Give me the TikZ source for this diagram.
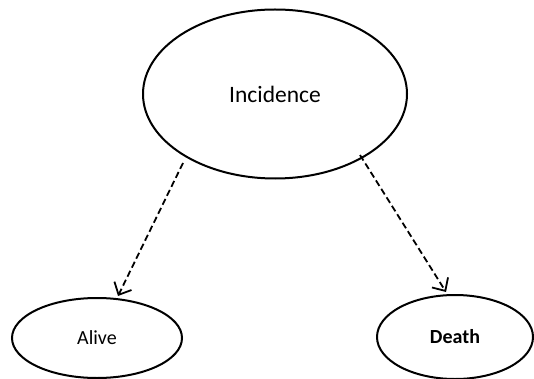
\documentclass[tikz,border=0pt]{standalone}
\usepackage{fontspec}
\setmainfont{Carlito}
\usetikzlibrary{shapes.geometric,arrows.meta}
\begin{document}
\begin{tikzpicture}[x=1pt,y=-1pt,
  blob/.style={draw=black,line width=2pt,ellipse,inner sep=0pt,fill=white},
  link/.style={draw=black,line width=1.8pt,dash pattern=on 6.5pt off 3.5pt,
    -{Straight Barb[length=10pt,width=19pt,line width=1.8pt]}}]
  \useasboundingbox (0,0) rectangle (534,379);
  % states
  \node[blob,minimum width=264pt,minimum height=169pt,font=\fontsize{23.5}{26}\selectfont] (inc) at (275,94) {Incidence};
  \node[blob,minimum width=170pt,minimum height=80pt,font=\fontsize{20}{24}\selectfont] (alive) at (97,338) {Alive};
  \node[blob,minimum width=156pt,minimum height=84pt,font=\fontsize{20}{24}\selectfont\bfseries] (death) at (455,337) {Death};
  % transitions
  \coordinate (s1) at (183,163);
  \coordinate (s2) at (360,155);
  \coordinate (e1) at (118,296);
  \coordinate (e2) at (446,292);
  \draw[link] (s1) -- (e1);
  \draw[link] (s2) -- (e2);
\end{tikzpicture}
\end{document}
